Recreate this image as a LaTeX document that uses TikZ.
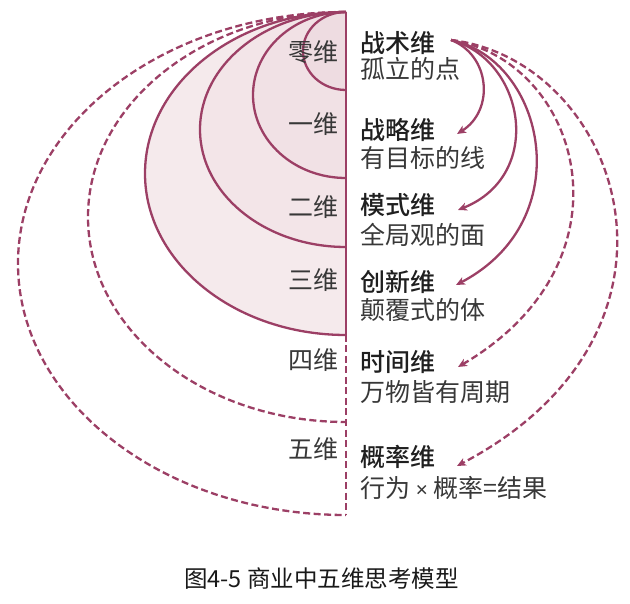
\documentclass[tikz,border=0pt]{standalone}
\usepackage{fontspec}
\setmainfont{Noto Sans CJK SC}
\newfontfamily\medfont{Noto Sans CJK SC Medium}
\newfontfamily\latinfont{Noto Sans}
\usetikzlibrary{arrows.meta}
\definecolor{lineC}{HTML}{9C3F65}
\definecolor{fillA}{HTML}{F5EAEC}
\definecolor{fillB}{HTML}{F3E5E8}
\definecolor{fillC}{HTML}{F1E1E5}
\definecolor{fillD}{HTML}{EEDCE1}
\definecolor{txt}{HTML}{383838}
\tikzset{
  arcline/.style={draw=lineC, line width=2.3pt},
  dashline/.style={draw=lineC, line width=2.3pt, dash pattern=on 7pt off 3.5pt},
  lbl/.style={inner sep=0pt, text=txt, font=\fontsize{25}{30}\selectfont},
  ttl/.style={lbl, font=\fontsize{25}{30}\selectfont\medfont, text=black!88},
  arr/.style={draw=lineC, line width=2.3pt, -{Stealth[length=9pt,width=8pt,inset=2.5pt]}},
  darr/.style={arr, dash pattern=on 7pt off 3.5pt},
}
\begin{document}
\begin{tikzpicture}[x=1pt,y=-1pt]
\useasboundingbox (0,0) rectangle (630,604);
% fills
\fill[fillA] (346,12) arc[start angle=90,end angle=270,x radius=201pt,y radius=161.5pt] -- cycle;
\fill[fillB] (346,12) arc[start angle=90,end angle=270,x radius=146pt,y radius=117.5pt] -- cycle;
\fill[fillC] (346,12) arc[start angle=90,end angle=270,x radius=93pt,y radius=83pt] -- cycle;
\fill[fillD] (346,12) arc[start angle=90,end angle=270,x radius=43pt,y radius=39pt] -- cycle;
% arcs
\draw[arcline] (346,12) arc[start angle=90,end angle=270,x radius=43pt,y radius=39pt];
\draw[arcline] (346,12) arc[start angle=90,end angle=270,x radius=93pt,y radius=83pt];
\draw[arcline] (346,12) arc[start angle=90,end angle=270,x radius=146pt,y radius=117.5pt];
\draw[arcline] (346,12) arc[start angle=90,end angle=270,x radius=201pt,y radius=161.5pt];
\draw[dashline] (346,12) arc[start angle=90,end angle=270,x radius=258pt,y radius=205pt];
\draw[dashline] (346,12) arc[start angle=90,end angle=270,x radius=328pt,y radius=251.5pt];
% axis
\draw[arcline] (346,12) -- (346,335);
\draw[dashline] (346,335) -- (346,515);
% left labels
\node[lbl, anchor=base east] (l0) at (339,61.5) {零维};
\node[lbl, anchor=base east] (l1) at (339,133.5) {一维};
\node[lbl, anchor=base east] (l2) at (339,216.5) {二维};
\node[lbl, anchor=base east] (l3) at (339,289.5) {三维};
\node[lbl, anchor=base east] (l4) at (339,369.5) {四维};
\node[lbl, anchor=base east] (l5) at (339,458.5) {五维};
% right labels
\node[ttl, anchor=base west] (t0) at (360,52.5) {战术维};
\node[lbl, anchor=base west] (d0) at (360,78.5) {孤立的点};
\node[ttl, anchor=base west] (t1) at (360,139.5) {战略维};
\node[lbl, anchor=base west] (d1) at (360,167.5) {有目标的线};
\node[ttl, anchor=base west] (t2) at (360,214.5) {模式维};
\node[lbl, anchor=base west] (d2) at (360,244.5) {全局观的面};
\node[ttl, anchor=base west] (t3) at (360,291.5) {创新维};
\node[lbl, anchor=base west] (d3) at (360,319.5) {颠覆式的体};
\node[ttl, anchor=base west] (t4) at (360,371.5) {时间维};
\node[lbl, anchor=base west] (d4) at (360,401.5) {万物皆有周期};
\node[ttl, anchor=base west] (t5) at (360,466.5) {概率维};
\node[lbl, anchor=base west] (d5) at (360,497.5) {行为 {\latinfont\fontsize{21}{25}\selectfont ×} 概率=结果};
% arrows
\coordinate (s) at (451,40);
\coordinate (e1) at (457,134);
\coordinate (e2) at (458,210);
\coordinate (e3) at (456,285);
\coordinate (e4) at (458,367);
\coordinate (e5) at (457,466);
\draw[arr] (s) .. controls (490,55) and (495,110) .. (e1);
\draw[arr] (s) .. controls (525,60) and (545,175) .. (e2);
\draw[arr] (s) .. controls (545,60) and (580,220) .. (e3);
\draw[darr] (s) .. controls (580,60) and (640,260) .. (e4);
\draw[darr] (s) .. controls (620,60) and (715,330) .. (e5);
% caption
\node[lbl, anchor=base, font=\fontsize{23.5}{28}\selectfont, text=black!90] (cap) at (321.5,587) {图4-5 商业中五维思考模型};
\end{tikzpicture}
\end{document}
